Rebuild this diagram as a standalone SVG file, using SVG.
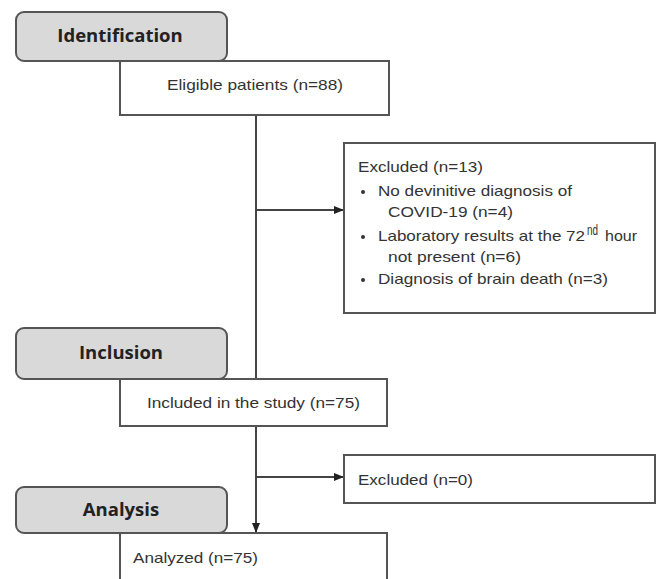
<svg xmlns="http://www.w3.org/2000/svg" width="657" height="579" viewBox="0 0 657 579">
<style>
.stage{fill:#d9d9d9;stroke:#555;stroke-width:2}
.box{fill:#fff;stroke:#555;stroke-width:2}
.h{font-family:"Open Sans","DejaVu Sans",sans-serif;font-weight:bold;font-size:18.5px;fill:#222;text-anchor:middle}
.t{font-family:"Liberation Sans",Arial,sans-serif;font-size:14.5px;fill:#333}
.c{stroke:#444;stroke-width:2;fill:none}
</style>
<defs>
<marker id="ah" markerWidth="10" markerHeight="8" refX="9" refY="4" orient="auto" markerUnits="userSpaceOnUse">
<path d="M0,0 L10,4 L0,8 Z" fill="#222"/>
</marker>
</defs>
<rect width="657" height="579" fill="#fff"/>
<g id="connectors">
<line class="c" x1="256" y1="115" x2="256" y2="379"/>
<line class="c" x1="256" y1="210" x2="343" y2="210" marker-end="url(#ah)"/>
<line class="c" x1="256" y1="426" x2="256" y2="532" marker-end="url(#ah)"/>
<line class="c" x1="256" y1="477" x2="343" y2="477" marker-end="url(#ah)"/>
</g>
<g id="identification">
<rect class="stage" x="16" y="12" width="211" height="49" rx="8"/>
<text class="h" x="120" y="42">Identification</text>
</g>
<g id="eligible">
<rect class="box" x="120" y="61" width="269" height="54"/>
<text class="t" x="167" y="90" textLength="176" lengthAdjust="spacingAndGlyphs">Eligible patients (n=88)</text>
</g>
<g id="excluded1">
<rect class="box" x="344" y="143" width="311" height="170"/>
<text class="t" x="358" y="172" textLength="125" lengthAdjust="spacingAndGlyphs">Excluded (n=13)</text>
<circle cx="363" cy="192" r="2" fill="#333"/>
<text class="t" x="378" y="196" textLength="194" lengthAdjust="spacingAndGlyphs">No devinitive diagnosis of</text>
<text class="t" x="388" y="217" textLength="125" lengthAdjust="spacingAndGlyphs">COVID-19 (n=4)</text>
<circle cx="363" cy="237" r="2" fill="#333"/>
<text class="t" x="378" y="241" textLength="207" lengthAdjust="spacingAndGlyphs">Laboratory results at the 72</text>
<text class="t" x="587" y="235" font-size="8" textLength="11" lengthAdjust="spacingAndGlyphs">nd</text>
<text class="t" x="605" y="241" textLength="32" lengthAdjust="spacingAndGlyphs">hour</text>
<text class="t" x="388" y="262" textLength="133" lengthAdjust="spacingAndGlyphs">not present (n=6)</text>
<circle cx="363" cy="280" r="2" fill="#333"/>
<text class="t" x="378" y="284" textLength="230" lengthAdjust="spacingAndGlyphs">Diagnosis of brain death (n=3)</text>
</g>
<g id="inclusion">
<rect class="stage" x="16" y="328" width="211" height="51" rx="8"/>
<text class="h" x="121" y="359">Inclusion</text>
</g>
<g id="included">
<rect class="box" x="120" y="379" width="267" height="47"/>
<text class="t" x="147" y="408" textLength="213" lengthAdjust="spacingAndGlyphs">Included in the study (n=75)</text>
</g>
<g id="excluded2">
<rect class="box" x="344" y="455" width="311" height="48"/>
<text class="t" x="358" y="485" textLength="115" lengthAdjust="spacingAndGlyphs">Excluded (n=0)</text>
</g>
<g id="analysis">
<rect class="stage" x="16" y="487" width="211" height="46" rx="8"/>
<text class="h" x="121" y="516">Analysis</text>
</g>
<g id="analyzed">
<rect class="box" x="120" y="533" width="267" height="60"/>
<text class="t" x="133" y="563" textLength="125" lengthAdjust="spacingAndGlyphs">Analyzed (n=75)</text>
</g>
</svg>
